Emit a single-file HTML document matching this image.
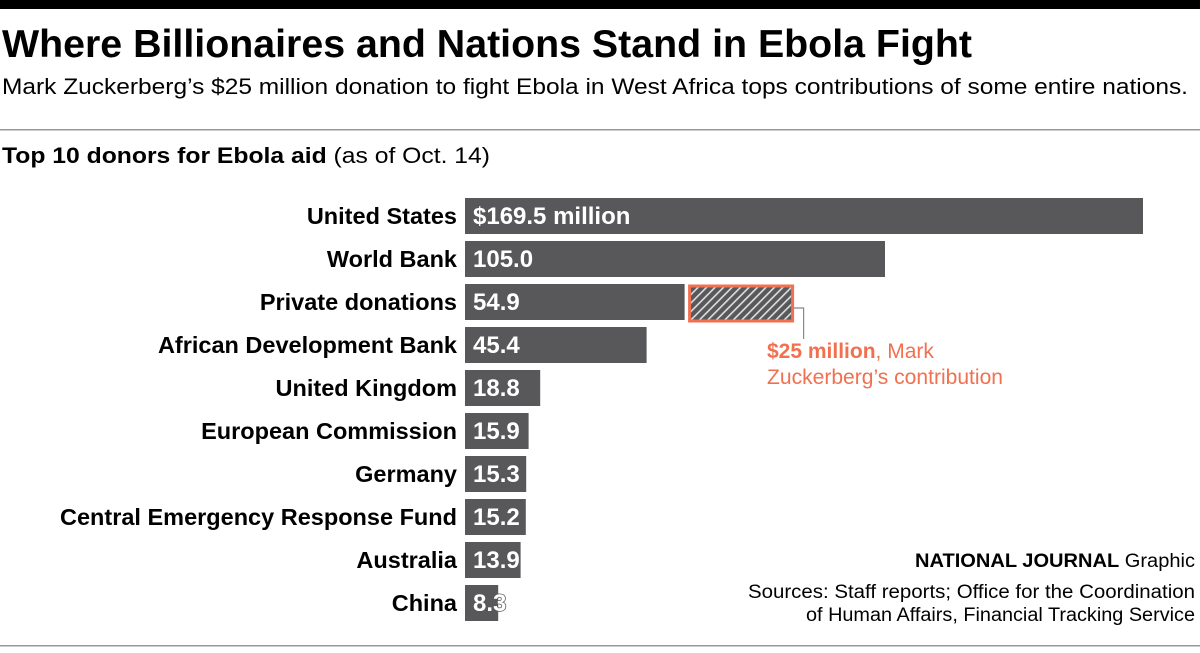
<!DOCTYPE html>
<html><head><meta charset="utf-8"><style>
html,body{margin:0;padding:0;background:#fff;width:1200px;height:653px;overflow:hidden}
svg text{font-family:"Liberation Sans",sans-serif}
</style></head><body>
<svg id="chart" width="1200" height="653" viewBox="0 0 1200 653" xmlns="http://www.w3.org/2000/svg">
<defs>
<pattern id="hatch" patternUnits="userSpaceOnUse" width="6" height="6" patternTransform="rotate(45)">
<rect width="6" height="6" fill="#58585a"/><rect x="0" width="1.6" height="6" fill="#ddd"/>
</pattern>
</defs>
<rect x="0" y="0" width="1200" height="9" fill="#000"/>
<text x="2" y="57" font-size="39" font-weight="bold" textLength="970" lengthAdjust="spacingAndGlyphs">Where Billionaires and Nations Stand in Ebola Fight</text>
<text x="2" y="94" font-size="22" textLength="1186" lengthAdjust="spacingAndGlyphs">Mark Zuckerberg’s $25 million donation to fight Ebola in West Africa tops contributions of some entire nations.</text>
<rect x="0" y="129" width="1200" height="1.5" fill="#999"/>
<text x="2" y="163" font-size="22" textLength="488" lengthAdjust="spacingAndGlyphs"><tspan font-weight="bold">Top 10 donors for Ebola aid</tspan> (as of Oct. 14)</text>
<g id="bars"></g>
<rect id="zbar" fill="url(#hatch)" stroke="#f07050" stroke-width="3"/>
<polyline id="leader" fill="none" stroke="#888" stroke-width="1.2"/>
<text x="767" y="358" font-size="21" fill="#f07050"><tspan font-weight="bold">$25 million</tspan>, Mark</text>
<text x="767" y="384" font-size="21" fill="#f07050" textLength="236" lengthAdjust="spacingAndGlyphs">Zuckerberg’s contribution</text>
<text x="1195" y="567" font-size="19" text-anchor="end" textLength="280" lengthAdjust="spacingAndGlyphs"><tspan font-weight="bold">NATIONAL JOURNAL</tspan> Graphic</text>
<text x="1195" y="598" font-size="19" text-anchor="end" textLength="447" lengthAdjust="spacingAndGlyphs">Sources: Staff reports; Office for the Coordination</text>
<text x="1195" y="621" font-size="19" text-anchor="end" textLength="389" lengthAdjust="spacingAndGlyphs">of Human Affairs, Financial Tracking Service</text>
<rect x="0" y="645" width="1200" height="1.5" fill="#999"/>
</svg>
<script>
const categories = ["United States","World Bank","Private donations","African Development Bank","United Kingdom","European Commission","Germany","Central Emergency Response Fund","Australia","China"];
const values = [169.5,105.0,54.9,45.4,18.8,15.9,15.3,15.2,13.9,8.3];
const valueLabels = ["$169.5 million","105.0","54.9","45.4","18.8","15.9","15.3","15.2","13.9","8.3"];
const zuckerbergValue = 25;
const zuckerbergRow = 2;

const x0 = 465, pxPer = 4.0;
const xs = v => x0 + v * pxPer;
const rowY = i => 198 + i * 43;
const barH = 36;
const NS = "http://www.w3.org/2000/svg";
const g = document.getElementById('bars');
categories.forEach((c, i) => {
  const y = rowY(i);
  const r = document.createElementNS(NS, 'rect');
  
  
  r.setAttribute('x', x0); r.setAttribute('y', y);
  r.setAttribute('width', xs(values[i]) - x0); r.setAttribute('height', barH);
  r.setAttribute('fill', '#58585a');
  g.appendChild(r);
  const t = document.createElementNS(NS, 'text');
  
  
  t.setAttribute('x', 457); t.setAttribute('y', y + 26);
  t.setAttribute('text-anchor', 'end');
  t.setAttribute('font-size', '23.5'); t.setAttribute('font-weight', 'bold');
  t.textContent = c;
  g.appendChild(t);
  const v = document.createElementNS(NS, 'text');
  
  
  v.setAttribute('x', 473); v.setAttribute('y', y + 26);
  v.setAttribute('font-size', '24'); v.setAttribute('font-weight', 'bold');
  v.setAttribute('fill', '#fff');
  v.setAttribute('stroke', '#58585a');
  v.setAttribute('stroke-width', '1.5');
  v.setAttribute('paint-order', 'stroke');
  v.textContent = valueLabels[i];
  g.appendChild(v);
});
const zx = xs(values[zuckerbergRow]) + 5;
const zy = rowY(zuckerbergRow) + 2;
const zw = zuckerbergValue * pxPer + 3;
const zb = document.getElementById('zbar');
zb.setAttribute('x', zx); zb.setAttribute('y', zy);
zb.setAttribute('width', zw); zb.setAttribute('height', barH - 1);
document.getElementById('leader').setAttribute('points',
  `${zx + zw + 1.5},${zy + 22} ${zx + zw + 11},${zy + 22} ${zx + zw + 11},${zy + 53}`);
</script>
</body></html>
